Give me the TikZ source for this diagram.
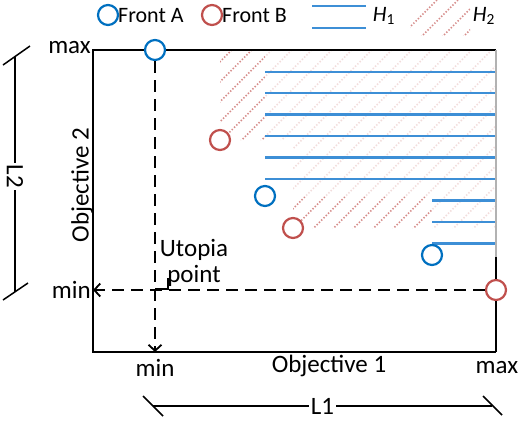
\documentclass[tikz,border=0pt]{standalone}
\usepackage{fontspec}
\setmainfont{Carlito}
\usetikzlibrary{arrows.meta}
\definecolor{frontblue}{HTML}{0070C0}
\definecolor{frontred}{HTML}{C0504D}
\definecolor{hlineblue}{HTML}{3D8FD6}

\begin{document}
\begin{tikzpicture}[x=1pt,y=-1pt,>={Straight Barb[length=6pt,width=13pt]},
  axis/.style={line width=1.8pt},
  guide/.style={line width=1.8pt,dash pattern=on 12pt off 7pt},
  fronta/.style={circle,draw=frontblue,fill=white,line width=2.2pt,minimum size=20pt,inner sep=0pt},
  frontb/.style={fronta,draw=frontred},
  hone/.style={hlineblue,line width=2.4pt},
  htwo/.style={frontred!65,line width=1.7pt,dash pattern=on 1.4pt off 1.8pt},
  lab/.style={font=\fontsize{25}{26}\selectfont,inner sep=0pt},
  leg/.style={font=\fontsize{22}{24}\selectfont,inner sep=0pt}]
\useasboundingbox (0,0) rectangle (520,424);

% hatched region H2
\begin{scope}
  \clip (220,51) -- (496,51) -- (496,228) -- (293,228) -- (293,140) -- (220,140) -- cycle;
  \foreach \k in {-5,...,19}
    \draw[htwo] ({361.7+20*\k},0) -- ++(-300,300);
\end{scope}
\fill[white,opacity=0.7] (265,51) -- (495,51) -- (495,255) -- (432,255) -- (432,196) -- (265,196) -- cycle;

% region H1
\foreach \k in {0,...,5}
  \draw[hone] (265,{71.7+21.45*\k}) -- (496,{71.7+21.45*\k});
\foreach \k in {6,7,8}
  \draw[hone] (432,{71.7+21.45*\k}) -- (496,{71.7+21.45*\k});

% axes box
\coordinate (tl) at (93,50);
\coordinate (bl) at (93,352);
\coordinate (br) at (496,352);
\draw[axis] (496,50) -- (tl) -- (bl) -- (br);
\draw[black!30,line width=1.2pt] (496,50) -- (496,257);

% fronts
\node[fronta] (fa1) at (155,50) {};
\node[fronta] (fa2) at (265,196) {};
\node[fronta] (fa3) at (432,255) {};
\node[frontb] (fb1) at (220,140) {};
\node[frontb] (fb2) at (293,228) {};
\node[frontb] (fb3) at (496,290) {};

\draw[axis] (496,257) -- (fb3);
\draw[axis] (fb3) -- (br);

% utopia point guides
\coordinate (xmin) at (fa1 |- bl);
\coordinate (ymin) at (bl |- fb3);
\draw[guide,->] (fa1) -- (xmin);
\draw[guide,->] (fb3) -- (ymin);
\draw[line width=1.5pt] (155,289) -- (168,289) -- (168,278);
\node[lab,align=center] (utopia) at (194,263) {Utopia\\point};

% tick labels
\node[lab,anchor=east] (ymaxl) at (91,48) {max};
\node[lab,anchor=east] (yminl) at (91,290) {min};
\node[lab] (xminl) at (155,368) {min};
\node[lab] (xmaxl) at (497,368) {max};
\node[lab] (xlab) at (329,366) {Objective 1};
\node[lab,rotate=90] (ylab) at (82,185) {Objective 2};

% dimensions L1 and L2
\coordinate (l1a) at (153,406);
\coordinate (l1b) at (492,406);
\draw[line width=1.5pt] (143,396) -- (163,416);
\draw[line width=1.5pt] (483,396) -- (502,415);
\draw[line width=1.5pt] (l1a) -- node[lab,fill=white,inner sep=2pt] (l1) {L1} (l1b);
\coordinate (l2a) at (15,56);
\coordinate (l2b) at (15,292);
\draw[line width=1.5pt] (3,65) -- (30,46);
\draw[line width=1.5pt] (3,300) -- (28,283);
\draw[line width=1.5pt] (l2a) -- node[lab,fill=white,inner sep=2pt,rotate=-90,pos=0.51] (l2) {L2} (l2b);

% legend
\node[fronta] (lega) at (108,15) {};
\node[leg,anchor=west] (legatxt) at (118,16) {Front A};
\node[frontb] (legb) at (212,15) {};
\node[leg,anchor=west] (legbtxt) at (222,16) {Front B};
\draw[hone] (312,6) -- (366,6);
\draw[hone] (312,28) -- (366,28);
\node[leg] (legh1) at (384,16) {\textit{H}\textsubscript{1}};
\begin{scope}
  \clip (410,0) rectangle (470,35);
  \foreach \k in {0,...,3}
    \draw[htwo] ({437+21*\k},0) -- ++(-60,60);
\end{scope}
\node[leg] (legh2) at (484,16) {\textit{H}\textsubscript{2}};
\end{tikzpicture}
\end{document}
